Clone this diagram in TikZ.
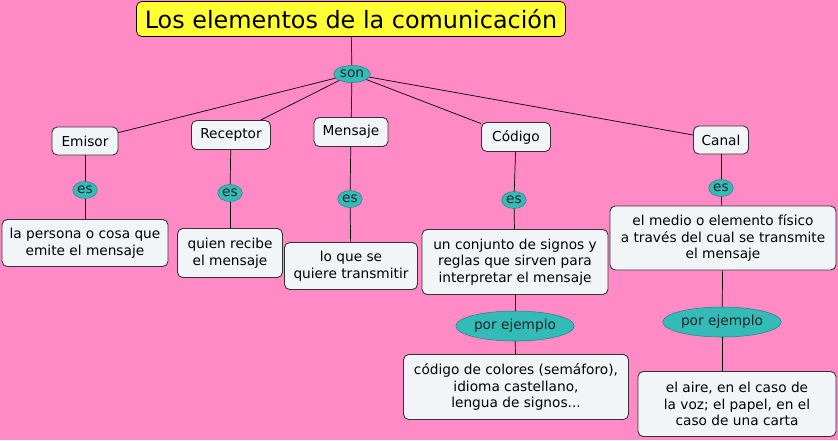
\documentclass[tikz,border=0pt]{standalone}
\usepackage{fontspec}
\setmainfont{DejaVu Sans}
\usetikzlibrary{shapes.geometric}
\definecolor{pinkbg}{HTML}{FF8AC6}
\definecolor{tealfill}{HTML}{33BBB8}
\definecolor{boxfill}{HTML}{F2F5F8}
\definecolor{titlefill}{HTML}{FFFF33}
\tikzset{
  x=0.02cm, y=-0.02cm,
  every node/.style={font=\fontsize{7.8}{9.4}\selectfont, text=black},
  concept/.style={draw=black!80, fill=boxfill, rounded corners=3pt, align=center, inner sep=2pt, line width=0.5pt},
  link/.style={ellipse, fill=tealfill, draw=tealfill!70!black, line width=0.3pt, inner sep=0.5pt, text=black!85},
  title/.style={draw=black, fill=titlefill, rounded corners=3pt, minimum width=429*0.02cm, minimum height=35*0.02cm, font=\fontsize{13.6}{15}\selectfont}
}
\begin{document}
\begin{tikzpicture}
  \fill[pinkbg] (0,0) rectangle (838,440);
  % title and top link
  \node[title] (tit) at (351,19) {Los elementos de la comunicación};
  \node[link, minimum width=30*0.02cm, minimum height=17*0.02cm] (son) at (352,74) {son};

  % categories
  \node[concept, minimum width=66*0.02cm, minimum height=28*0.02cm] (emi) at (85,141) {Emisor};
  \node[concept, minimum width=79*0.02cm, minimum height=29*0.02cm] (rec) at (231,135) {Receptor};
  \node[concept, minimum width=74*0.02cm, minimum height=29*0.02cm] (men) at (351,132) {Mensaje};
  \node[concept, minimum width=69*0.02cm, minimum height=29*0.02cm] (cod) at (516,137) {Código};
  \node[concept, minimum width=55*0.02cm, minimum height=28*0.02cm] (can) at (721,140) {Canal};

  % es links
  \node[link, minimum width=24*0.02cm, minimum height=17*0.02cm] (es1) at (85,190) {es};
  \node[link, minimum width=24*0.02cm, minimum height=17*0.02cm] (es2) at (230,193) {es};
  \node[link, minimum width=24*0.02cm, minimum height=17*0.02cm] (es3) at (350,199) {es};
  \node[link, minimum width=24*0.02cm, minimum height=17*0.02cm] (es4) at (514,200) {es};
  \node[link, minimum width=24*0.02cm, minimum height=17*0.02cm] (es5) at (721,188) {es};

  % definitions
  \node[concept, minimum width=166*0.02cm, minimum height=47*0.02cm] (def1) at (85,243) {la persona o cosa que\\emite el mensaje};
  \node[concept, minimum width=105*0.02cm, minimum height=49*0.02cm] (def2) at (230,253) {quien recibe\\el mensaje};
  \node[concept, minimum width=133*0.02cm, minimum height=47*0.02cm] (def3) at (351,266) {lo que se\\quiere transmitir};
  \node[concept, minimum width=186*0.02cm, minimum height=65*0.02cm] (def4) at (515,262) {un conjunto de signos y\\reglas que sirven para\\interpretar el mensaje};
  \node[concept, minimum width=226*0.02cm, minimum height=64*0.02cm] (def5) at (723,238) {el medio o elemento físico\\a través del cual se transmite\\el mensaje};

  % examples
  \node[link, minimum width=92*0.02cm, minimum height=30*0.02cm] (por1) at (515,326) {por ejemplo};
  \node[link, minimum width=92*0.02cm, minimum height=30*0.02cm] (por2) at (722,322) {por ejemplo};
  \node[concept, minimum width=225*0.02cm, minimum height=65*0.02cm] (ej1) at (516,387) {código de colores (semáforo),\\idioma castellano,\\lengua de signos...};
  \node[concept, minimum width=198*0.02cm, minimum height=65*0.02cm] (ej2) at (737,404) {el aire, en el caso de\\la voz; el papel, en el\\caso de una carta};

  % connectors
  \draw (tit) -- (son);
  \foreach \c in {emi,rec,men,cod,can} \draw (son) -- (\c);
  \foreach \c/\e/\d in {emi/es1/def1,rec/es2/def2,men/es3/def3,cod/es4/def4,can/es5/def5}
    {\draw (\c) -- (\e); \draw (\e) -- (\d);}
  \draw (def4) -- (por1); \draw (por1) -- (ej1);
  \draw (def5) -- (por2); \draw (por2.south) -- (por2.south |- ej2.north);
\end{tikzpicture}
\end{document}
